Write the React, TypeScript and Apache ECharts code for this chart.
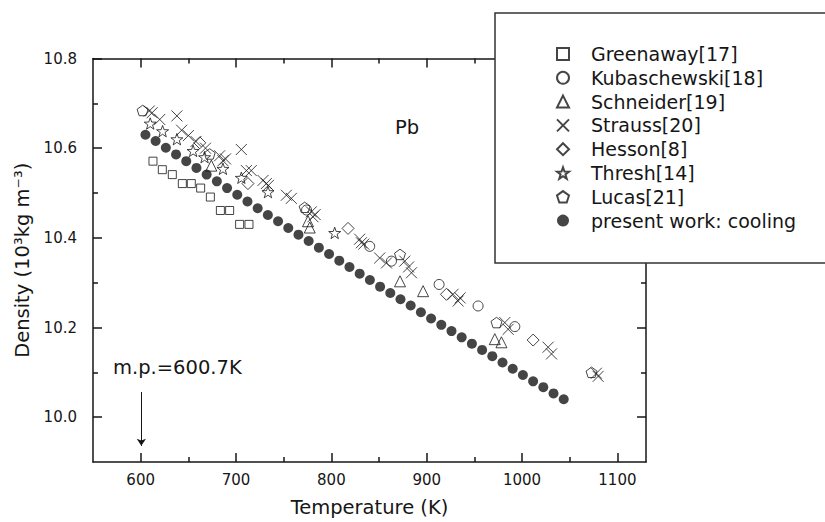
import React, { useEffect, useRef } from "react";
import * as echarts from "echarts";

const FONT = "'DejaVu Sans', sans-serif";

const seriesNames = [
  "Greenaway[17]",
  "Kubaschewski[18]",
  "Schneider[19]",
  "Strauss[20]",
  "Hesson[8]",
  "Thresh[14]",
  "Lucas[21]",
  "present work: cooling",
];

const X_MIN = 550;
const X_MAX = 1130;
const Y_MIN = 9.9;
const Y_MAX = 10.8;

const xMajorTicks = [600, 700, 800, 900, 1000, 1100];
const xMinorTicks = [650, 750, 850, 950, 1050];
const yMajorTicks = [10.0, 10.2, 10.4, 10.6, 10.8];
const yMinorTicks = [10.1, 10.3, 10.5, 10.7];

const greenaway: [number, number][] = [
  [612.9, 10.571], [622.7, 10.552], [633.2, 10.541], [643.7, 10.521], [653.1, 10.521],
  [662.9, 10.511], [673.1, 10.491], [683.6, 10.461], [693.3, 10.461], [703.8, 10.43], [713.6, 10.43],
];

const kubaschewski: [number, number][] = [
  [774, 10.462], [840.2, 10.381], [863, 10.348], [913, 10.296], [953.9, 10.248], [992.4, 10.202],
];

const schneider: [number, number][] = [
  [674.1, 10.561], [775.5, 10.437], [777.3, 10.423], [872, 10.303], [896.2, 10.281],
  [971.4, 10.174], [978.4, 10.167],
];

const strauss: [number, number][] = [
  [609, 10.683], [612, 10.679], [620, 10.664], [638, 10.672], [643, 10.64], [650, 10.628],
  [658, 10.615], [668, 10.6], [682.8, 10.583], [686.3, 10.572], [689, 10.576], [705.6, 10.597],
  [710.9, 10.55], [716, 10.55], [728.3, 10.528], [731.8, 10.521], [734, 10.517], [752.8, 10.495],
  [758, 10.488], [779, 10.458], [780.7, 10.447], [783, 10.452], [829.7, 10.397], [831.5, 10.389],
  [834, 10.386], [850.7, 10.355], [857.8, 10.344], [877, 10.348], [881, 10.335], [884, 10.322],
  [927.6, 10.274], [933, 10.259], [935, 10.266], [981.9, 10.211], [985.4, 10.196],
  [1027.3, 10.156], [1030.9, 10.141], [1078, 10.098], [1079.8, 10.091],
];

const hesson: [number, number][] = [
  [662, 10.612], [712.5, 10.521], [817.5, 10.421], [920.7, 10.274], [1011.6, 10.172],
];

const thresh: [number, number][] = [
  [610, 10.655], [623, 10.638], [638, 10.62], [655, 10.594], [667, 10.58], [686.3, 10.554],
  [705.6, 10.534], [733.5, 10.502], [803.5, 10.411],
];

const lucas: [number, number][] = [
  [602, 10.684], [672.4, 10.587], [772, 10.468], [872, 10.363], [973.2, 10.211], [1072.9, 10.1],
];

const presentWork: [number, number][] = [
  [605, 10.63], [615.7, 10.616], [626.4, 10.601], [637.1, 10.586], [647.8, 10.571],
  [658.5, 10.556], [669.2, 10.541], [679.9, 10.526], [690.6, 10.511], [701.3, 10.496],
  [712, 10.481], [722.7, 10.466], [733.4, 10.451], [744.1, 10.437], [754.8, 10.422],
  [765.5, 10.407], [776.2, 10.393], [786.9, 10.378], [797.6, 10.364], [808.3, 10.349],
  [819, 10.335], [829.7, 10.32], [840.4, 10.306], [851.1, 10.291], [861.8, 10.277],
  [872.5, 10.263], [883.2, 10.249], [893.9, 10.234], [904.6, 10.22], [915.3, 10.206],
  [926, 10.192], [936.7, 10.178], [947.4, 10.164], [958.1, 10.15], [968.8, 10.136],
  [979.5, 10.122], [990.2, 10.108], [1000.9, 10.094], [1011.6, 10.08], [1022.3, 10.067],
  [1033, 10.053], [1043.7, 10.04],
];

const meltingPoint = 600.7;

const X_SYM = "path://M0,0L10,10M10,0L0,10";
const STAR_SYM =
  "path://M10,0L12.351,6.764L19.511,6.91L13.804,11.236L15.878,18.09L10,14L4.122,18.09L6.196,11.236L0.489,6.91L7.649,6.764Z";
const PENT_SYM = "path://M10,0L19.511,6.91L15.878,18.09L4.122,18.09L0.489,6.91Z";

const INK = "#161616";
const MAJOR_LEN = 9;
const MINOR_LEN = 5;

const GRID = { left: 93, right: 179, top: 58.5, bottom: 56 };
const CHART_W = 825;
const CHART_H = 522;
const PLOT_W = CHART_W - GRID.left - GRID.right;
const PLOT_H = CHART_H - GRID.top - GRID.bottom;
const X_PER_PX = (X_MAX - X_MIN) / PLOT_W;
const Y_PER_PX = (Y_MAX - Y_MIN) / PLOT_H;

// Inward tick segments on all four frame sides, expressed in axis coordinates.
function buildTickSegments() {
  const segs: any[] = [];
  const xt: [number, number][] = [
    ...xMajorTicks.map((v) => [v, MAJOR_LEN] as [number, number]),
    ...xMinorTicks.map((v) => [v, MINOR_LEN] as [number, number]),
  ];
  const yt: [number, number][] = [
    ...yMajorTicks.map((v) => [v, MAJOR_LEN] as [number, number]),
    ...yMinorTicks.map((v) => [v, MINOR_LEN] as [number, number]),
  ];
  for (const [v, len] of xt) {
    segs.push([{ coord: [v, Y_MIN] }, { coord: [v, Y_MIN + len * Y_PER_PX] }]);
    segs.push([{ coord: [v, Y_MAX] }, { coord: [v, Y_MAX - len * Y_PER_PX] }]);
  }
  for (const [v, len] of yt) {
    segs.push([{ coord: [X_MIN, v] }, { coord: [X_MIN + len * X_PER_PX, v] }]);
    segs.push([{ coord: [X_MAX, v] }, { coord: [X_MAX - len * X_PER_PX, v] }]);
  }
  return segs;
}

function hollow(name: string, data: [number, number][], symbol: string, size: number, extra: any = {}) {
  return {
    type: "scatter",
    name,
    data,
    symbol,
    symbolSize: size,
    symbolKeepAspect: true,
    clip: false,
    itemStyle: { color: "rgba(255,255,255,0)", borderColor: INK, borderWidth: 1 },
    emphasis: { disabled: true },
    ...extra,
  };
}

function frameAxis(kind: "x" | "y", position: string, extra: any = {}) {
  return {
    type: "value",
    position,
    min: kind === "x" ? X_MIN : Y_MIN,
    max: kind === "x" ? X_MAX : Y_MAX,
    splitLine: { show: false },
    axisLine: { show: true, onZero: false, lineStyle: { color: INK, width: 1.5 } },
    axisTick: { show: false },
    axisLabel: { show: false },
    ...extra,
  };
}

export default function App() {
  const ref = useRef<HTMLDivElement>(null);
  useEffect(() => {
    document.body.style.margin = "0";
    const chart = echarts.init(ref.current!, null, { renderer: "svg" });
    chart.setOption({
      animation: false,
      grid: GRID,
      xAxis: [
        frameAxis("x", "bottom", {
          axisLabel: {
            show: true,
            customValues: xMajorTicks,
            margin: 10,
            fontSize: 15,
            fontFamily: FONT,
            color: INK,
            formatter: (v: number) => String(Math.round(v)),
          },
          name: "Temperature (K)",
          nameLocation: "middle",
          nameGap: 35,
          nameTextStyle: { fontSize: 19.5, fontFamily: FONT, color: INK },
        }),
        frameAxis("x", "top"),
      ],
      yAxis: [
        frameAxis("y", "left", {
          axisLabel: {
            show: true,
            customValues: yMajorTicks,
            margin: 16,
            fontSize: 15,
            fontFamily: FONT,
            color: INK,
            formatter: (v: number) => v.toFixed(1),
          },
          name: "Density (10³kg m⁻³)",
          nameLocation: "middle",
          nameGap: 48,
          nameTextStyle: { fontSize: 19.5, fontFamily: FONT, color: INK },
        }),
        frameAxis("y", "right"),
      ],
      legend: {
        orient: "vertical",
        left: 551,
        top: 39,
        itemWidth: 12,
        itemHeight: 12,
        itemGap: 3.8,
        selectedMode: false,
        z: 200,
        data: seriesNames,
        textStyle: { fontFamily: FONT, fontSize: 19, color: INK, lineHeight: 20, padding: [0, 0, 0, 17] },
      },
      graphic: {
        elements: [
          {
            type: "rect",
            z: 100,
            shape: { x: 495, y: 13, width: 360, height: 250 },
            style: { fill: "#fff", stroke: "#333", lineWidth: 1.5 },
          },
          {
            type: "text",
            z: 100,
            x: 407,
            y: 127,
            style: {
              text: "Pb",
              fontSize: 19.5,
              fontFamily: FONT,
              fill: INK,
              textAlign: "center",
              textVerticalAlign: "middle",
              align: "center",
              verticalAlign: "middle",
            },
          },
          {
            type: "text",
            z: 100,
            x: 113,
            y: 367,
            style: {
              text: "m.p.=600.7K",
              fontSize: 19.5,
              fontFamily: FONT,
              fill: INK,
              textAlign: "left",
              textVerticalAlign: "middle",
              align: "left",
              verticalAlign: "middle",
            },
          },
        ],
      },
      series: [
        hollow(seriesNames[0], greenaway, "rect", 8, {
          markLine: {
            silent: true,
            symbol: ["none", "none"],
            lineStyle: { color: INK, width: 1.5, type: "solid" },
            label: { show: false },
            emphasis: { disabled: true },
            data: buildTickSegments(),
          },
        }),
        hollow(seriesNames[1], kubaschewski, "circle", 10),
        hollow(seriesNames[2], schneider, "triangle", 11),
        hollow(seriesNames[3], strauss, X_SYM, 11),
        hollow(seriesNames[4], hesson, "diamond", 12),
        hollow(seriesNames[5], thresh, STAR_SYM, 12),
        hollow(seriesNames[6], lucas, PENT_SYM, 11),
        {
          type: "scatter",
          name: seriesNames[7],
          data: presentWork,
          symbol: "circle",
          symbolSize: 10,
          clip: false,
          itemStyle: { color: INK },
          emphasis: { disabled: true },
          markLine: {
            silent: true,
            symbol: ["none", "arrow"],
            symbolSize: 7,
            lineStyle: { color: INK, width: 1, type: "solid" },
            label: { show: false },
            data: [[{ coord: [meltingPoint, 10.056] }, { coord: [meltingPoint, 9.936] }]],
          },
        },
      ],
    });
    return () => chart.dispose();
  }, []);
  return (
    <div
      ref={ref}
      style={{ position: "absolute", left: 0, top: 0, width: CHART_W, height: CHART_H, background: "#fff" }}
    />
  );
}
